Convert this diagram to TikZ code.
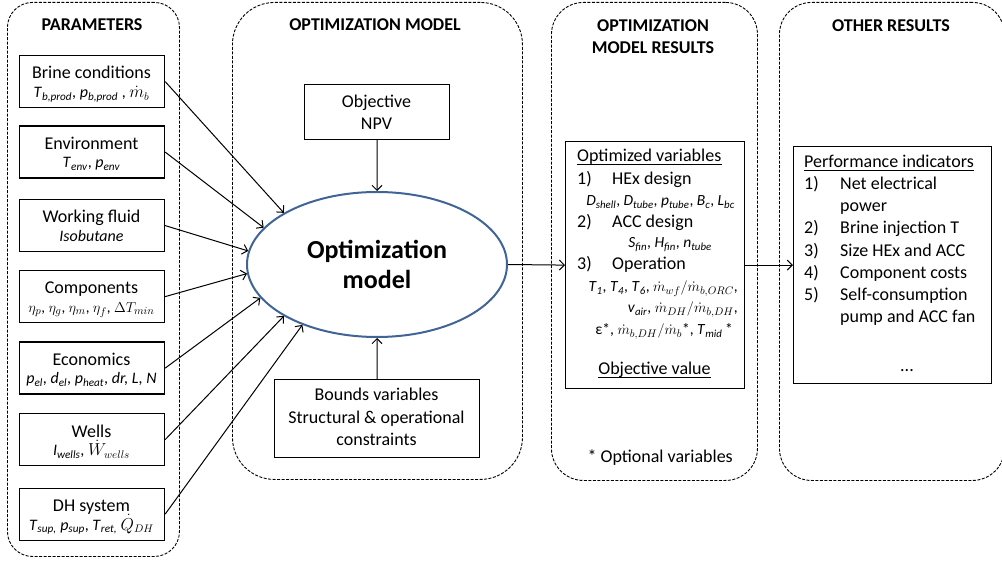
\documentclass[tikz,border=0pt]{standalone}
\usepackage{fontspec}
\setmainfont{Carlito}
\usetikzlibrary{shapes.geometric,arrows.meta}
\newcommand{\iv}[2]{\textit{#1}\textsubscript{\textit{#2}}}
\newcommand{\fmain}{\fontsize{18}{22.5}\selectfont}
\newcommand{\fsub}{\fontsize{16}{19}\selectfont}
\newcommand{\fsubm}{\fontsize{15}{18}\selectfont}
\newcommand{\fsm}{\fontsize{15.5}{18}\selectfont}
\newcommand{\fbig}{\fontsize{26}{32}\selectfont\bfseries}
\definecolor{ellblue}{RGB}{64,100,150}
\tikzset{
  panel/.style={draw, line width=0.9pt, dash pattern=on 3pt off 1.5pt, rounded corners=#1, inner sep=0pt},
  panel/.default=30,
  box/.style={draw, line width=1.2pt, inner sep=0pt},
  arr/.style={draw, line width=1pt, -{Straight Barb[length=5pt,width=10pt]}},
  txt/.style={inner sep=0pt, anchor=base, font=\fmain},
  subt/.style={inner sep=0pt, anchor=base, font=\fsub},
  smt/.style={inner sep=0pt, anchor=base east, font=\fsm},
  ttl/.style={inner sep=0pt, anchor=base, font=\fmain\bfseries},
  uline/.style={line width=0.9pt}
}
% rectangle node from corners: style, name, x1, y1, x2, y2
\newcommand{\rectnode}[6]{%
  \node[#1, anchor=north west, minimum width={(#5-#3)*1pt}, minimum height={(#6-#4)*1pt}] (#2) at (#3,#4) {};}
% parameter box: name, top, title, sub
\newcommand{\pbx}[4]{%
  \rectnode{box}{#1}{19}{#2}{164}{#2+52}
  \node[txt] (#1t) at (91.5,#2+24) {#3};
  \node[subt] (#1s) at (91.5,#2+42.5) {#4};}
\newcommand{\ul}[1]{\draw[uline] ([yshift=-2.6pt]#1.base west) -- ([yshift=-2.6pt]#1.base east);}
\begin{document}
\begin{tikzpicture}[x=1pt,y=-1pt]
\useasboundingbox (0,0) rectangle (1002,561);
% panels
\rectnode{panel=25}{P1}{7}{2}{179}{556}
\rectnode{panel=42}{P2}{232}{2}{522}{479}
\rectnode{panel=32}{P3}{551}{2}{757}{480}
\rectnode{panel=32}{P4}{779}{2}{1004}{480}
\node[ttl] (P1t) at (92,31) {PARAMETERS};
\node[ttl] (P2t) at (375,31) {OPTIMIZATION MODEL};
\node[ttl] (P3t) at (653,32) {OPTIMIZATION};
\node[ttl] (P3u) at (653,53.5) {MODEL RESULTS};
\node[ttl] (P4t) at (891,32) {OTHER RESULTS};
% parameter boxes
\pbx{b1}{55}{Brine conditions}{\iv{T}{b,prod}, \iv{p}{b,prod} , $\dot m_b$}
\pbx{b2}{125.5}{Environment}{\iv{T}{env}, \iv{p}{env}}
\pbx{b3}{199}{Working fluid}{\textit{Isobutane}}
\pbx{b4}{270}{Components}{\fsubm$\eta_p$, $\eta_g$, $\eta_m$, $\eta_f$, $\Delta T_{min}$}
\pbx{b5}{341.5}{Economics}{\iv{p}{el}, \iv{d}{el}, \iv{p}{heat}, \textit{dr, L, N}}
\pbx{b6}{413}{Wells}{\iv{I}{wells}, $\dot W_{wells}$}
\pbx{b7}{487.5}{DH system}{\iv{T}{sup,} \iv{p}{sup}, \iv{T}{ret,} $\dot Q_{DH}$}
% optimization model
\node[ellipse, draw=ellblue, line width=2pt, minimum width=260pt, minimum height=145pt, inner sep=0pt, align=center, font=\fbig] (e) at (377,264.5) {Optimization\\[-2pt]model};
\rectnode{box}{obj}{304}{84}{449}{139}
\node[txt] (objt) at (376.5,108) {Objective};
\node[txt] (objs) at (376.5,130) {NPV};
\rectnode{box}{bnd}{274}{379}{479}{457}
\node[txt] (bnd1) at (376.5,401) {Bounds variables};
\node[txt] (bnd2) at (376.5,423.5) {Structural \& operational};
\node[txt] (bnd3) at (376.5,446) {constraints};
% results box
\rectnode{box}{res}{565}{141}{744}{388}
\node[txt, anchor=base west] (r0) at (577,162) {Optimized variables};
\ul{r0}
\node[txt, anchor=base west] (r1n) at (577,185) {1)};
\node[txt, anchor=base west] (r1) at (612,185) {HEx design};
\node[smt] (r1s) at (735,206) {\iv{D}{shell}, \iv{D}{tube}, \iv{p}{tube}, \iv{B}{c}, \iv{L}{bc}};
\node[txt, anchor=base west] (r2n) at (577,228) {2)};
\node[txt, anchor=base west] (r2) at (612,228) {ACC design};
\node[smt] (r2s) at (712,248) {\iv{S}{fin}, \iv{H}{fin}, \iv{n}{tube}};
\node[txt, anchor=base west] (r3n) at (577,270) {3)};
\node[txt, anchor=base west] (r3) at (612,270) {Operation};
\node[smt] (r3a) at (738,292) {\iv{T}{1}, \iv{T}{4}, \iv{T}{6}, $\dot m_{wf}/\dot m_{b,ORC}$,};
\node[smt] (r3b) at (738,313) {\iv{v}{air}, $\dot m_{DH}/\dot m_{b,DH}$,};
\node[smt] (r3c) at (733,335) {ε*, $\dot m_{b,DH}/\dot m_b$*, \iv{T}{mid}\,*};
\node[txt] (rov) at (654.5,375) {Objective value};
\ul{rov}
\node[txt, anchor=base east] (opt) at (733,462) {* Optional variables};
% other results box
\rectnode{box}{oth}{793}{146}{991}{383}
\node[txt, anchor=base west] (o0) at (804,168) {Performance indicators};
\ul{o0}
\node[txt, anchor=base west] (o1n) at (804,190) {1)};
\node[txt, anchor=base west] (o1) at (840,190) {Net electrical};
\node[txt, anchor=base west] (o1b) at (840,212) {power};
\node[txt, anchor=base west] (o2n) at (804,234) {2)};
\node[txt, anchor=base west] (o2) at (840,234) {Brine injection T};
\node[txt, anchor=base west] (o3n) at (804,257) {3)};
\node[txt, anchor=base west] (o3) at (840,257) {Size HEx and ACC};
\node[txt, anchor=base west] (o4n) at (804,279) {4)};
\node[txt, anchor=base west] (o4) at (840,279) {Component costs};
\node[txt, anchor=base west] (o5n) at (804,301) {5)};
\node[txt, anchor=base west] (o5) at (840,301) {Self-consumption};
\node[txt, anchor=base west] (o5b) at (840,323) {pump and ACC fan};
\node[txt] (odots) at (907,372) {...};
% connectors
\draw[arr] (b1.east) -- (e.151);
\draw[arr] (b2.east) -- (e.162.6);
\draw[arr] (b3.east) -- (e.174.7);
\draw[arr] (b4.east) -- (e.184.8);
\draw[arr] (b5.east) -- (e.196.5);
\draw[arr] (b6.east) -- (e.209);
\draw[arr] (b7.east) -- (e.219.5);
\draw[arr] (obj.south) -- (e.north);
\draw[arr] (bnd.north) -- (e.south);
\draw[arr] (e.east) -- (res.west);
\draw[arr] (res.east) -- (oth.west);
\end{tikzpicture}
\end{document}
